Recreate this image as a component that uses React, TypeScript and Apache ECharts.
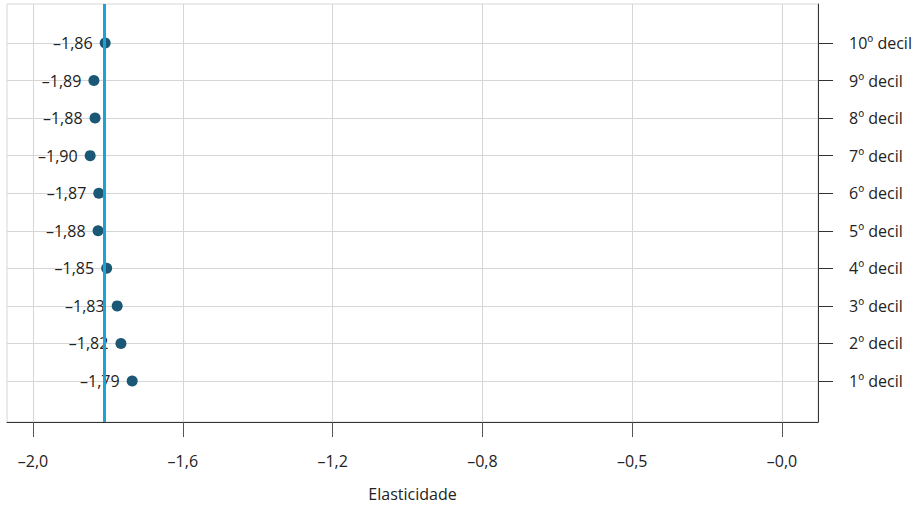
import React, { useEffect, useRef } from "react";
import * as echarts from "echarts";

// Deciles (1º..10º) and their elasticities as labelled in the chart
const deciles = [1, 2, 3, 4, 5, 6, 7, 8, 9, 10];
const elasticityLabels = [-1.79, -1.82, -1.83, -1.85, -1.88, -1.87, -1.9, -1.88, -1.89, -1.86];
// Plotted positions of the dots (as drawn, slightly offset from the labels)
const elasticityPlotted = [-1.785, -1.815, -1.825, -1.853, -1.876, -1.874, -1.897, -1.884, -1.887, -1.857];
const meanLine = -1.863;
const xTickLabels = ["–2,0", "–1,6", "–1,2", "–0,8", "–0,5", "–0,0"];
const xTickIndex = [0, 1, 2, 3, 4, 5];

const fmt = (v: number) => "–" + Math.abs(v).toFixed(2).replace(".", ",");

export default function App() {
  const ref = useRef<HTMLDivElement>(null);
  useEffect(() => {
    document.body.style.margin = "0";
    const chart = echarts.init(ref.current!, null, { renderer: "svg" });
    const font = "'Open Sans', 'Noto Sans', sans-serif";
    const grid = "#d6d6d6";
    chart.setOption({
      animation: false,
      textStyle: { fontFamily: font },
      grid: {
        left: 7, right: 103, top: 4, bottom: 87,
        show: true, borderColor: grid, borderWidth: 1,
        containLabel: false,
        outerBoundsMode: "none",
      },
      xAxis: [
        {
          type: "value",
          position: "bottom",
          min: -0.1736,
          max: 5.24,
          name: "Elasticidade",
          nameLocation: "middle",
          nameGap: 64,
          nameTextStyle: { fontSize: 16, color: "#222", fontFamily: font },
          axisLine: { show: true, onZero: false, lineStyle: { color: "#333", width: 1 } },
          axisTick: { show: true, customValues: xTickIndex, length: 15, lineStyle: { color: "#555" } },
          axisLabel: {
            customValues: xTickIndex,
            margin: 31,
            fontSize: 16,
            color: "#222",
            fontFamily: font,
            formatter: (v: number) => xTickLabels[Math.round(v)] ?? "",
          },
          splitLine: { show: true, lineStyle: { color: grid, width: 1 } },
        },
        {
          type: "value",
          min: -2.1188,
          max: 0.0439,
          show: false,
        },
      ],
      yAxis: {
        type: "value",
        position: "right",
        min: -0.0916,
        max: 11.037,
        axisLine: { show: true, onZero: false, lineStyle: { color: "#333", width: 1 } },
        axisTick: { show: true, customValues: deciles, length: 15, lineStyle: { color: "#333" } },
        axisLabel: {
          customValues: deciles,
          margin: 31,
          fontSize: 16,
          color: "#222",
          fontFamily: font,
          formatter: (v: number) => `${v}º decil`,
        },
        splitLine: { show: true, lineStyle: { color: grid, width: 1 } },
      },
      series: [
        {
          type: "scatter",
          xAxisIndex: 1,
          yAxisIndex: 0,
          symbolSize: 11,
          itemStyle: { color: "#1a5876", opacity: 1 },
          data: deciles.map((d, i) => [elasticityPlotted[i], d]),
          label: {
            show: true,
            position: "left",
            distance: 7,
            fontSize: 16,
            color: "#222",
            fontFamily: font,
            formatter: (p: any) => fmt(elasticityLabels[p.dataIndex]),
          },
          markLine: {
            silent: true,
            symbol: "none",
            label: { show: false },
            lineStyle: { color: "#1ba3d5", width: 3, type: "solid" },
            data: [{ xAxis: meanLine }],
          },
          z: 3,
        },
      ],
    });
    return () => chart.dispose();
  }, []);
  return <div ref={ref} style={{ width: 921, height: 509 }} />;
}
